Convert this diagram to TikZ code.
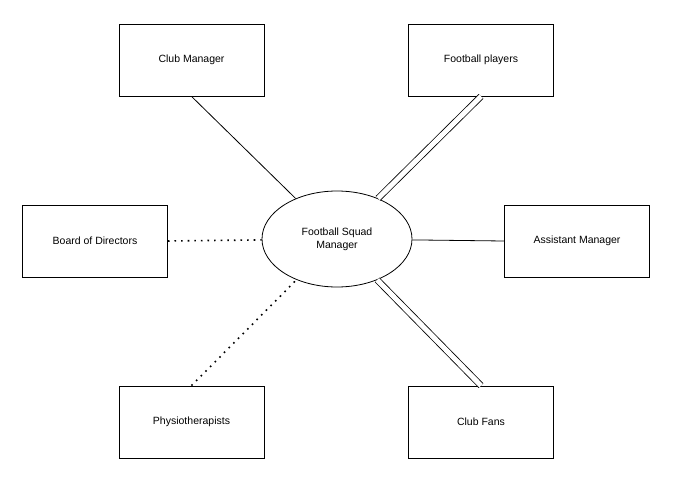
\documentclass[tikz,border=0pt]{standalone}
\usepackage{fontspec}
\setmainfont{Liberation Sans}
\usetikzlibrary{shapes.geometric}
\begin{document}
\begin{tikzpicture}[x=1pt,y=-1pt,
  box/.style={draw,line width=0.8pt,minimum width=145pt,minimum height=72pt,font=\fontsize{10.5}{12}\selectfont},
  conn/.style={line width=0.8pt},
  dbl/.style={double,double distance=5pt,line width=0.8pt},
  dot/.style={line width=1.6pt,dash pattern=on 1.6pt off 5pt}]
\useasboundingbox (0,0) rectangle (694,493);
\node[box] (cm) at (191.5,60) {Club Manager};
\node[box] (fp) at (481,60) {Football players};
\node[box] (bd) at (95,241) {Board of Directors};
\node[box] (am) at (577,241) {Assistant Manager};
\node[box] (ph) at (191.5,422) {Physiotherapists};
\node[box] (cf) at (481,422) {Club Fans};
\node[draw,ellipse,line width=0.8pt,minimum width=150pt,minimum height=96pt,align=center,font=\fontsize{10.5}{13}\selectfont] (e) at (337,239) {Football Squad\\Manager};
\draw[conn] (cm.south) -- (e);
\draw[dbl] (fp.south) -- (e);
\draw[dot] (bd.east) -- (e);
\draw[conn] (am.west) -- (e);
\draw[dot] (ph.north) -- (e);
\draw[dbl] (cf.north) -- (e);
\end{tikzpicture}
\end{document}
